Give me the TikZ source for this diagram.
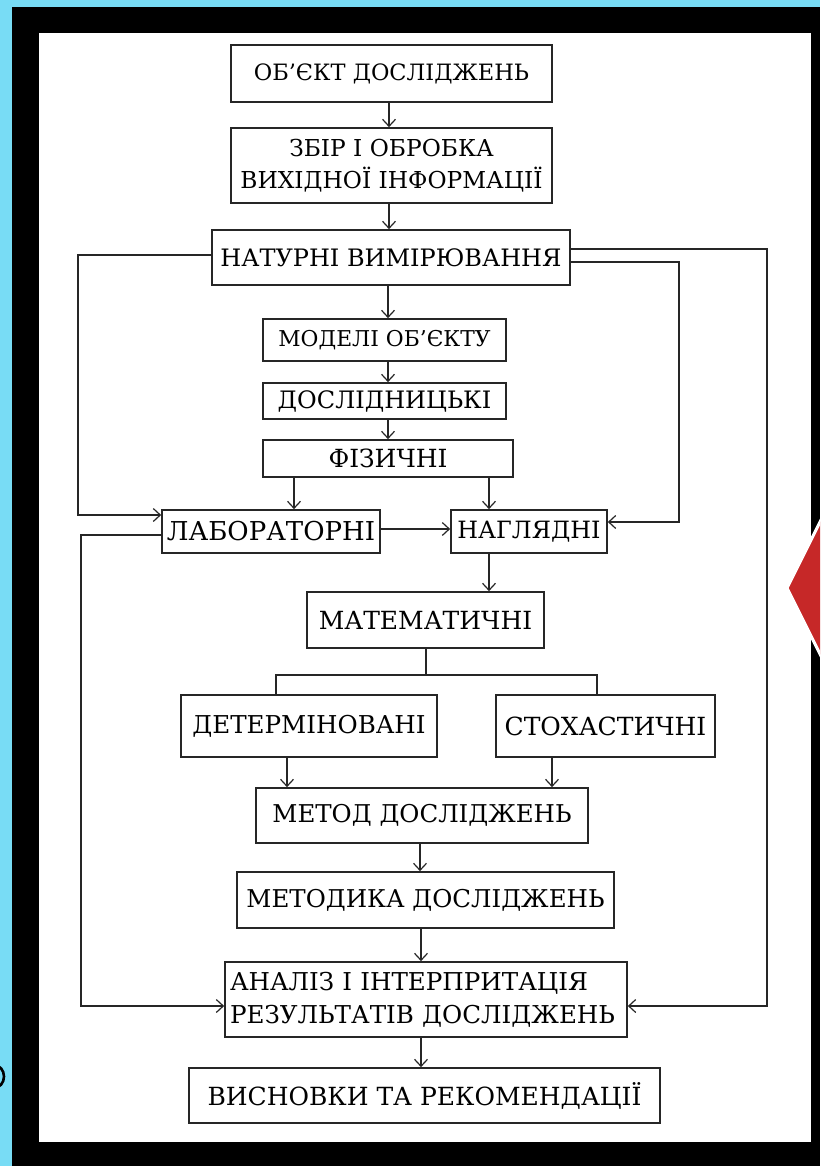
\documentclass[tikz,border=0pt]{standalone}
\usepackage{fontspec}
\setmainfont{DejaVu Serif}
\usetikzlibrary{arrows.meta}
\definecolor{bgblue}{HTML}{78DCF5}
\definecolor{dred}{HTML}{C62828}
\definecolor{linec}{HTML}{262626}
\begin{document}
\begin{tikzpicture}[x=1pt,y=-1pt,
  box/.style={draw=linec, line width=1.7pt, inner sep=0pt, align=center, text=black},
  conn/.style={draw=linec, line width=1.5pt},
  arr/.style={conn, -{Straight Barb[length=7pt,width=13pt,line width=1.2pt]}},
]
\useasboundingbox (0,0) rectangle (820,1166);
\begin{scope}
\clip (0,0) rectangle (820,1166);
\fill[bgblue] (0,0) rectangle (820,1166);
\fill[black] (12,7) rectangle (820,1166);
\fill[white] (39,33) rectangle (811,1142);
\fill[dred, draw=white, line width=3pt] (787,588) -- (853,456) -- (919,588) -- (853,720) -- cycle;
\draw[black, line width=2.6pt] (-6,1076.5) ellipse [x radius=10, y radius=11.5];
\end{scope}

% boxes
\node[box, minimum width=321pt, minimum height=57pt, font=\fontsize{22.5}{30}\selectfont] (b1) at (391.5,73.5) {ОБ'ЄКТ ДОСЛІДЖЕНЬ};
\node[box, minimum width=321pt, minimum height=75pt, font=\fontsize{23.3}{32}\selectfont] (b2) at (391.5,165.5) {ЗБІР І ОБРОБКА\\ВИХІДНОЇ ІНФОРМАЦІЇ};
\node[box, minimum width=358pt, minimum height=55pt, font=\fontsize{24}{32}\selectfont] (b3) at (391,257.5) {НАТУРНІ ВИМІРЮВАННЯ};
\node[box, minimum width=243pt, minimum height=42pt, font=\fontsize{21.8}{30}\selectfont] (b4) at (384.5,340) {МОДЕЛІ ОБ'ЄКТУ};
\node[box, minimum width=243pt, minimum height=36pt, font=\fontsize{24}{30}\selectfont] (b5) at (384.5,401) {ДОСЛІДНИЦЬКІ};
\node[box, minimum width=250pt, minimum height=37pt, font=\fontsize{25}{30}\selectfont] (b6) at (388,458.5) {ФІЗИЧНІ};
\node[box, minimum width=218pt, minimum height=43pt, font=\fontsize{26}{30}\selectfont] (b7) at (271,531.5) {ЛАБОРАТОРНІ};
\node[box, minimum width=156pt, minimum height=43pt, font=\fontsize{23.8}{30}\selectfont] (b8) at (529,531.5) {НАГЛЯДНІ};
\node[box, minimum width=237pt, minimum height=56pt, font=\fontsize{25}{30}\selectfont] (b9) at (425.5,620) {МАТЕМАТИЧНІ};
\node[box, minimum width=256pt, minimum height=62pt, font=\fontsize{24.6}{30}\selectfont] (b10) at (309,726) {ДЕТЕРМІНОВАНІ};
\node[box, minimum width=219pt, minimum height=62pt, font=\fontsize{25}{30}\selectfont] (b11) at (605.5,726) {СТОХАСТИЧНІ};
\node[box, minimum width=332pt, minimum height=55pt, font=\fontsize{24.5}{30}\selectfont] (b12) at (422,815.5) {МЕТОД ДОСЛІДЖЕНЬ};
\node[box, minimum width=377pt, minimum height=56pt, font=\fontsize{24.5}{30}\selectfont] (b13) at (425.5,900) {МЕТОДИКА ДОСЛІДЖЕНЬ};
\node[box, minimum width=402pt, minimum height=75pt, align=left, text width=392pt, font=\fontsize{24.6}{33}\selectfont] (b14) at (426,999.5) {АНАЛІЗ І ІНТЕРПРИТАЦІЯ\\РЕЗУЛЬТАТІВ ДОСЛІДЖЕНЬ};
\node[box, minimum width=471pt, minimum height=55pt, font=\fontsize{25}{30}\selectfont] (b15) at (424.5,1095.5) {ВИСНОВКИ ТА РЕКОМЕНДАЦІЇ};

% x positions of vertical arrows
\coordinate (v1) at (389,0);
\coordinate (v3) at (388,0);
\coordinate (v4) at (294,0);
\coordinate (v5) at (489,0);
\coordinate (v6) at (287,0);
\coordinate (v7) at (552,0);
\coordinate (v8) at (420,0);
\coordinate (v9) at (421,0);

\draw[arr] (b1.south -| v1) -- (b2.north -| v1);
\draw[arr] (b2.south -| v1) -- (b3.north -| v1);
\draw[arr] (b3.south -| v3) -- (b4.north -| v3);
\draw[arr] (b4.south -| v3) -- (b5.north -| v3);
\draw[arr] (b5.south -| v3) -- (b6.north -| v3);
\draw[arr] (b6.south -| v4) -- (b7.north -| v4);
\draw[arr] (b6.south -| v5) -- (b8.north -| v5);
\draw[arr] (b8.south -| v5) -- (b9.north -| v5);
\draw[arr] (b10.south -| v6) -- (b12.north -| v6);
\draw[arr] (b11.south -| v7) -- (b12.north -| v7);
\draw[arr] (b12.south -| v8) -- (b13.north -| v8);
\draw[arr] (b13.south -| v9) -- (b14.north -| v9);
\draw[arr] (b14.south -| v9) -- (b15.north -| v9);

% horizontal arrow
\coordinate (cE) at (0,529);
\draw[arr] (b7.east |- cE) -- (b8.west |- cE);

% feedback loops
\coordinate (cA1) at (78,255);
\coordinate (cA2) at (78,515);
\draw[arr] (b3.west |- cA1) -- (cA1) -- (cA2) -- (b7.west |- cA2);
\coordinate (cB1) at (767,249);
\coordinate (cB2) at (767,1006);
\draw[arr] (b3.east |- cB1) -- (cB1) -- (cB2) -- (b14.east |- cB2);
\coordinate (cC1) at (679,262);
\coordinate (cC2) at (679,522);
\draw[arr] (b3.east |- cC1) -- (cC1) -- (cC2) -- (b8.east |- cC2);
\coordinate (cD1) at (81,535);
\coordinate (cD2) at (81,1006);
\draw[arr] (b7.west |- cD1) -- (cD1) -- (cD2) -- (b14.west |- cD2);

% branching from МАТЕМАТИЧНІ
\coordinate (cF) at (426,675);
\coordinate (cG1) at (276,675);
\coordinate (cG2) at (597,675);
\draw[conn] (b9.south -| cF) -- (cF);
\draw[conn] (b10.north -| cG1) -- (cG1) -- (cG2) -- (b11.north -| cG2);
\end{tikzpicture}
\end{document}
